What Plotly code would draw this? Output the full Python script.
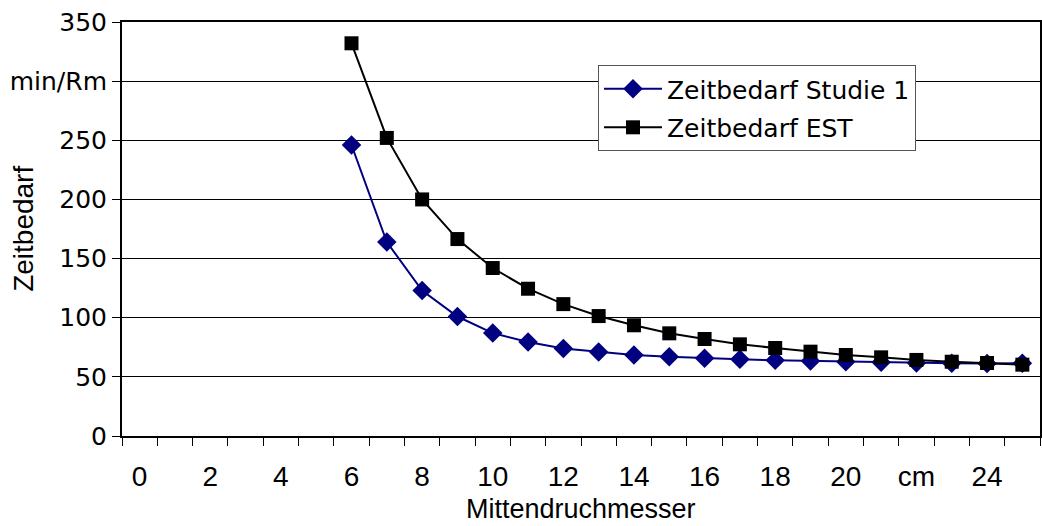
import plotly.graph_objects as go

# Data
diameters = list(range(6, 26))
studie1 = [246, 164, 123, 101, 87, 79.5, 74, 71, 68.5, 67, 65.7, 64.8, 64, 63.4, 62.8, 62.3, 61.7, 61.4, 61.2, 61.5]
est = [332, 252, 200, 166.5, 142, 124.5, 111.5, 101.4, 93.6, 86.8, 82, 77.5, 74.4, 71.3, 68.5, 66.5, 64.3, 62.8, 61.7, 60.3]

x_tick_vals = list(range(0, 25, 2))
x_tick_text = ["0", "2", "4", "6", "8", "10", "12", "14", "16", "18", "20", "cm", "24"]
y_tick_vals = [0, 50, 100, 150, 200, 250, 300, 350]
y_tick_text = ["0", "50", "100", "150", "200", "250", "min/Rm", "350"]

FONT_X = "Liberation Sans, Arial, sans-serif"
FONT_Y = "DejaVu Sans, Arial, sans-serif"

fig = go.Figure()
fig.add_trace(go.Scatter(
    x=diameters, y=studie1, mode="lines+markers", name="Zeitbedarf Studie 1",
    legendgroup="a",
    line=dict(color="#000080", width=2),
    marker=dict(symbol="diamond", size=15, color="#000080"),
))
fig.add_trace(go.Scatter(
    x=diameters, y=est, mode="lines+markers", name="Zeitbedarf EST",
    legendgroup="b",
    line=dict(color="black", width=2),
    marker=dict(symbol="square", size=14, color="black"),
))

fig.update_layout(
    width=1042, height=526,
    margin=dict(l=122, r=2, t=22, b=90, autoexpand=False),
    paper_bgcolor="white", plot_bgcolor="white",
    font=dict(family=FONT_Y, size=25, color="black"),
    showlegend=True,
    legend=dict(
        x=0.5185, y=0.896, xanchor="left", yanchor="top",
        bgcolor="white", bordercolor="#555555", borderwidth=1,
        font=dict(size=25, family=FONT_Y, color="black"),
        itemwidth=58, traceorder="grouped", tracegroupgap=3,
    ),
    xaxis=dict(
        range=[-0.5, 25.5], tickmode="array", tickvals=x_tick_vals, ticktext=x_tick_text,
        ticks="", showgrid=False, zeroline=False, automargin=False,
        showline=True, linecolor="black", linewidth=2, mirror=True,
        ticklabelstandoff=14,
        minor=dict(ticks="outside", tick0=-0.5, dtick=1, ticklen=8, tickcolor="black", tickwidth=1, showgrid=False),
        tickfont=dict(size=28, family=FONT_X),
    ),
    yaxis=dict(
        range=[0, 350], tickmode="array", tickvals=y_tick_vals, ticktext=y_tick_text,
        ticks="outside", ticklen=8, tickcolor="black", tickwidth=1,
        showgrid=True, gridcolor="black", gridwidth=1, zeroline=False, automargin=False,
        showline=True, linecolor="black", linewidth=2, mirror=True,
        ticklabelstandoff=0,
        tickfont=dict(size=25, family=FONT_Y),
    ),
    annotations=[
        dict(text="Zeitbedarf", xref="paper", yref="paper", x=-0.108, y=0.5,
             xanchor="center", yanchor="middle", textangle=-90, showarrow=False,
             font=dict(size=28, family=FONT_X)),
        dict(text="Mittendruchmesser", xref="paper", yref="paper", x=0.5, y=-0.177,
             xanchor="center", yanchor="middle", showarrow=False,
             font=dict(size=27, family=FONT_X)),
    ],
)

fig.write_html("out.html", config={"displayModeBar": False},
               post_script="document.body.style.margin='0';document.body.style.padding='0';")
